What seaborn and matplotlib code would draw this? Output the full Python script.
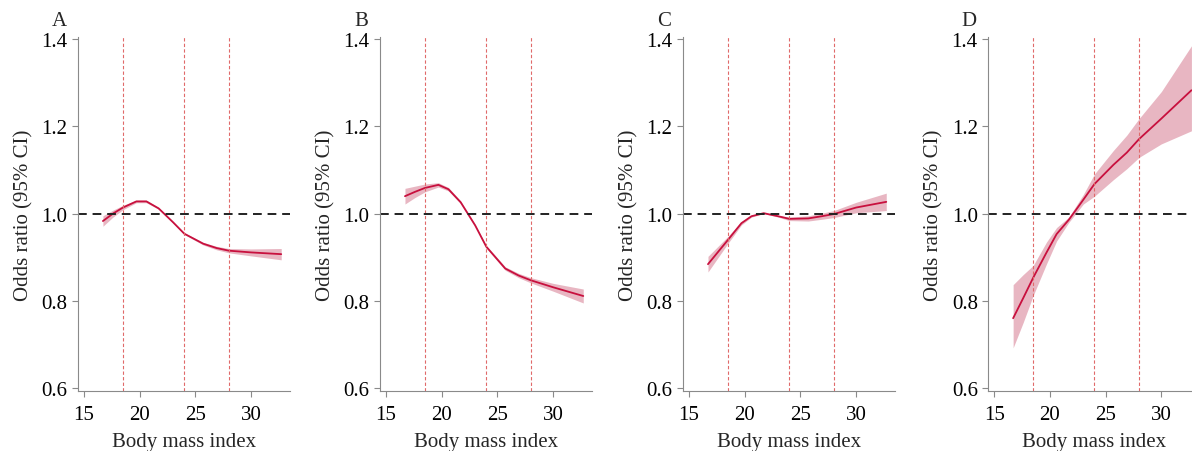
import matplotlib.pyplot as plt
import seaborn as sns
import pandas as pd
import numpy as np

# BMI grid shared by all four panels
bmi = [16.7, 17.6, 18.5, 19.7, 20.6, 21.7, 23.0, 24.0, 25.7, 26.9, 28.0, 30.0, 32.7]

# Panel A
or_a = [0.983, 1.000, 1.014, 1.028, 1.028, 1.012, 0.980, 0.954, 0.931, 0.921, 0.915, 0.911, 0.907]
hw_a = [0.012, 0.008, 0.005, 0.003, 0.003, 0.002, 0.002, 0.002, 0.003, 0.004, 0.005, 0.008, 0.013]
# Panel B
or_b = [1.040, 1.050, 1.059, 1.066, 1.056, 1.026, 0.973, 0.924, 0.874, 0.858, 0.847, 0.831, 0.811]
hw_b = [0.018, 0.013, 0.009, 0.005, 0.004, 0.003, 0.002, 0.003, 0.004, 0.005, 0.006, 0.009, 0.016]
# Panel C
or_c = [0.884, 0.912, 0.940, 0.978, 0.994, 1.001, 0.994, 0.988, 0.989, 0.994, 0.999, 1.014, 1.027]
hw_c = [0.018, 0.013, 0.008, 0.004, 0.002, 0.001, 0.002, 0.004, 0.006, 0.007, 0.008, 0.012, 0.020]
# Panel D (asymmetric band)
or_d = [0.760, 0.806, 0.853, 0.911, 0.953, 0.986, 1.032, 1.068, 1.112, 1.140, 1.171, 1.218, 1.283]
lo_d = [0.692, 0.750, 0.812, 0.885, 0.937, 0.980, 1.022, 1.040, 1.078, 1.103, 1.129, 1.160, 1.190]
hi_d = [0.837, 0.860, 0.881, 0.935, 0.968, 0.992, 1.044, 1.091, 1.145, 1.180, 1.218, 1.280, 1.385]

cutoffs = [18.5, 24, 28]
panel_labels = ["A", "B", "C", "D"]

panels = [
    (or_a, [o - h for o, h in zip(or_a, hw_a)], [o + h for o, h in zip(or_a, hw_a)]),
    (or_b, [o - h for o, h in zip(or_b, hw_b)], [o + h for o, h in zip(or_b, hw_b)]),
    (or_c, [o - h for o, h in zip(or_c, hw_c)], [o + h for o, h in zip(or_c, hw_c)]),
    (or_d, lo_d, hi_d),
]

sns.set_theme(style="ticks")
plt.rcParams['font.family'] = ['Liberation Serif', 'DejaVu Serif']
plt.rcParams['font.size'] = 15

line_col = "#c8103e"
band_col = "#e4aab8"
spine_col = "#8a8a8a"

fig = plt.figure(figsize=(11.92, 4.52), dpi=100)
lefts = [0.0654, 0.3188, 0.573, 0.829]

for left, lab, (orv, lo, hi) in zip(lefts, panel_labels, panels):
    ax = fig.add_axes([left, 0.1327, 0.178, 0.783])
    df = pd.DataFrame({"bmi": bmi, "or": orv, "lo": lo, "hi": hi})
    ax.fill_between(df["bmi"], df["lo"], df["hi"], color=band_col, lw=0, alpha=0.85)
    sns.lineplot(data=df, x="bmi", y="or", ax=ax, color=line_col, lw=1.3)
    for c in cutoffs:
        ax.axvline(c, color="#e06a6a", lw=0.8, ls=(0, (3, 2)))
    ax.axhline(1.0, color="#222222", lw=1.4, ls=(0, (4.5, 3)))

    ax.set_xlim(14.46, 33.5)
    ax.set_ylim(0.593, 1.405)
    ax.set_xticks([15, 20, 25, 30])
    ax.set_yticks([0.6, 0.8, 1.0, 1.2, 1.4])
    ax.set_yticklabels(["0.6", "0.8", "1.0", "1.2", "1.4"])
    ax.set_xlabel("Body mass index", fontsize=15, labelpad=6)
    ax.set_ylabel("Odds ratio (95% CI)", fontsize=15, labelpad=6)
    ax.tick_params(axis="both", colors=spine_col, labelcolor="black",
                   labelsize=15, length=4, width=0.8, direction="out")
    ax.tick_params(axis="x", pad=6)
    sns.despine(ax=ax)
    for s in ["left", "bottom"]:
        ax.spines[s].set_color(spine_col)
        ax.spines[s].set_linewidth(0.8)
    ax.text(-0.09, 1.02, lab, transform=ax.transAxes, fontsize=15,
            ha="center", va="bottom")

plt.savefig("out.png", dpi=100)
